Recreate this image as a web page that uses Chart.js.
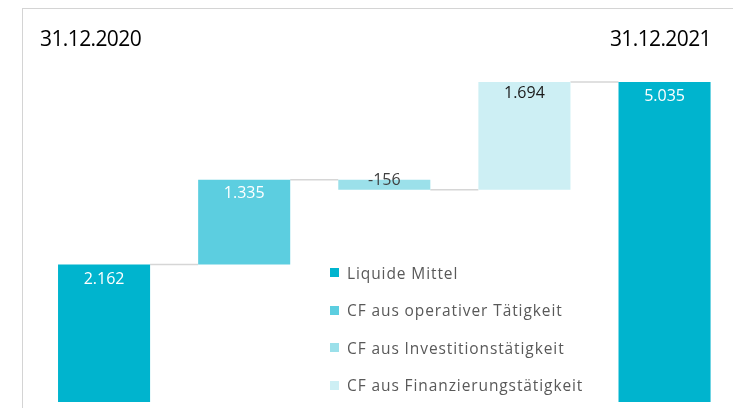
<!DOCTYPE html>
<html>
<head>
<meta charset="utf-8">
<script src="https://cdn.jsdelivr.net/npm/chart.js@4.4.1/dist/chart.umd.min.js"></script>
<style>
  html, body { margin: 0; padding: 0; background: #fff; overflow: hidden; width: 733px; height: 408px; }
  #wrap { position: relative; width: 736px; height: 408px; }
  #frame { position: absolute; left: 22px; top: 8px; width: 720px; height: 420px; border-left: 1px solid #d4d4d4; border-top: 1px solid #d4d4d4; }
  canvas { position: absolute; left: 0; top: 0; }
  .ttl { position: absolute; top: 24px; font-family: "Open Sans", sans-serif; font-size: 21px; color: #000; letter-spacing: -0.6px; }
  #legend { position: absolute; left: 330px; top: 254px; font-family: "Open Sans", sans-serif; font-size: 15.5px; letter-spacing: 0.9px; color: #595959; }
  .li { height: 37.5px; display: flex; align-items: center; white-space: nowrap; }
  .sw { width: 9px; height: 9px; margin-right: 8px; display: inline-block; }
</style>
</head>
<body>
<div id="wrap">
  <div id="frame"></div>
  <canvas id="c" width="736" height="408"></canvas>
  <div class="ttl" style="left:40px">31.12.2020</div>
  <div class="ttl" style="right:25px">31.12.2021</div>
  <div id="legend"></div>
</div>
<script>
// ---- data ----
const categories = ["31.12.2020", "CF aus operativer Tätigkeit", "CF aus Investitionstätigkeit", "CF aus Finanzierungstätigkeit", "31.12.2021"];
const values = [2162, 1335, -156, 1694, 5035];
const isTotal = [true, false, false, false, true];
const valueLabels = ["2.162", "1.335", "-156", "1.694", "5.035"];
const legendNames = ["Liquide Mittel", "CF aus operativer Tätigkeit", "CF aus Investitionstätigkeit", "CF aus Finanzierungstätigkeit"];
const legendColors = ["#00B4CE", "#5CCEE0", "#9BE0EA", "#CDEFF4"];
const barColors = ["#00B4CE", "#5CCEE0", "#9BE0EA", "#CDEFF4", "#00B4CE"];

// build floating ranges from values
const ranges = [];
const totals = [];
let run = 0;
values.forEach((v, i) => {
  if (isTotal[i]) { ranges.push([0, v]); run = v; }
  else { ranges.push([run, run + v]); run += v; }
  totals.push(run);
});

// ---- legend (HTML) ----
const lg = document.getElementById('legend');
legendNames.forEach((n, i) => {
  const d = document.createElement('div');
  d.className = 'li';
  d.innerHTML = '<span class="sw" style="background:' + legendColors[i] + '"></span>' + n;
  lg.appendChild(d);
});

const labelColors = ["#ffffff", "#ffffff", "#404040", "#1a1a1a", "#ffffff"];
const labelOffsets = [15, 14, 1, 11.5, 14.5];

const connectors = {
  id: 'connectors',
  beforeDatasetsDraw(chart) {
    const meta = chart.getDatasetMeta(0);
    const ys = chart.scales.y;
    const ctx = chart.ctx;
    ctx.save();
    ctx.strokeStyle = '#d6d6d6';
    ctx.lineWidth = 1.5;
    for (let i = 0; i < meta.data.length - 1; i++) {
      const a = meta.data[i], b = meta.data[i + 1];
      const y = ys.getPixelForValue(totals[i]);
      ctx.beginPath();
      ctx.moveTo(a.x + a.width / 2, y);
      ctx.lineTo(b.x - b.width / 2, y);
      ctx.stroke();
    }
    ctx.restore();
  }
};

const barLabels = {
  id: 'barLabels',
  afterDatasetsDraw(chart) {
    const meta = chart.getDatasetMeta(0);
    const ctx = chart.ctx;
    ctx.save();
    ctx.font = '16px "Open Sans", sans-serif';
    ctx.textAlign = 'center';
    ctx.textBaseline = 'middle';
    meta.data.forEach((el, i) => {
      const top = Math.min(el.y, el.base);
      ctx.fillStyle = labelColors[i];
      ctx.fillText(valueLabels[i], el.x, top + labelOffsets[i]);
    });
    ctx.restore();
  }
};

new Chart(document.getElementById('c'), {
  type: 'bar',
  data: {
    labels: categories,
    datasets: [{
      data: ranges,
      backgroundColor: barColors,
      borderWidth: 0,
      borderSkipped: false,
      categoryPercentage: 1,
      barPercentage: 0.657
    }]
  },
  options: {
    responsive: false,
    animation: false,
    layout: { padding: { left: 34, right: 1.4, top: 52.4, bottom: 6 } },
    scales: {
      x: { display: false },
      y: { display: false, min: 0, max: 5500 }
    },
    plugins: {
      legend: { display: false },
      tooltip: { enabled: false }
    }
  },
  plugins: [connectors, barLabels]
});
</script>
</body>
</html>
